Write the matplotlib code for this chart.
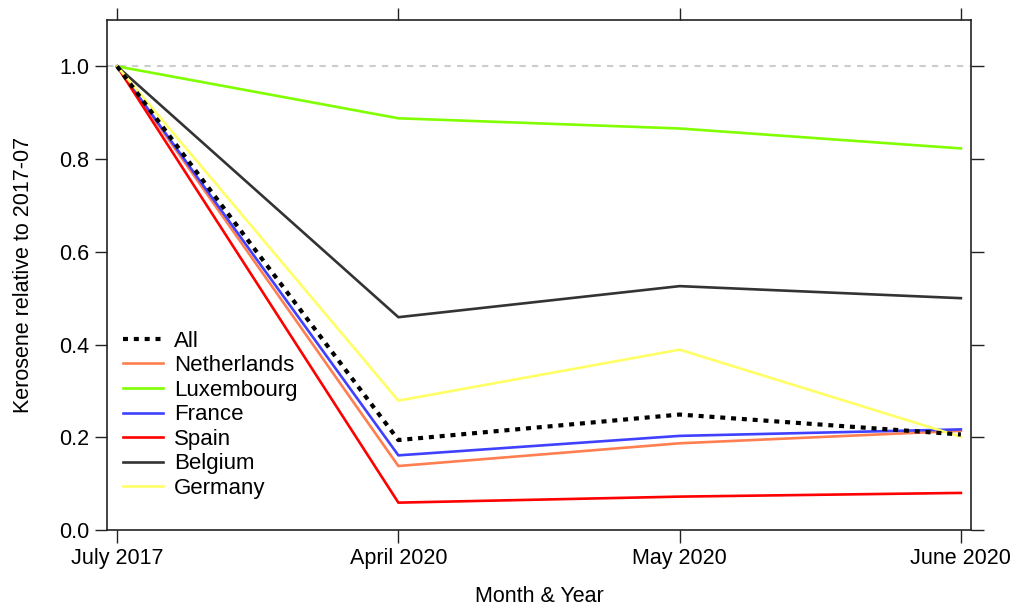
import matplotlib
matplotlib.use("Agg")
from matplotlib import pyplot as plt

plt.rcParams['font.family'] = ['Liberation Sans', 'DejaVu Sans']

months = ["July 2017", "April 2020", "May 2020", "June 2020"]
all_vals = [1.0, 0.194, 0.249, 0.206]
netherlands = [1.0, 0.138, 0.187, 0.214]
luxembourg = [1.0, 0.888, 0.866, 0.823]
france = [1.0, 0.161, 0.203, 0.217]
spain = [1.0, 0.059, 0.072, 0.080]
belgium = [1.0, 0.459, 0.526, 0.500]
germany = [1.0, 0.279, 0.389, 0.201]

countries = ["Netherlands", "Luxembourg", "France", "Spain", "Belgium", "Germany"]
series = [netherlands, luxembourg, france, spain, belgium, germany]
colors = ["#FF7F50", "#7FFF00", "#4040FF", "#FF0000", "#333333", "#FFFF66"]

fig = plt.figure(figsize=(10.17, 6.10), dpi=100)
ax = fig.add_axes([107 / 1017, 80 / 610, 864 / 1017, 510 / 610])

x = list(range(len(months)))
ax.axhline(1.0, color="#CCCCCC", lw=1.5, ls=(0, (3, 3)), zorder=1)

handles = []
for name, vals, c in zip(countries, series, colors):
    h, = ax.plot(x, vals, color=c, lw=1.9, label=name, zorder=2)
    handles.append(h)
h_all, = ax.plot(x, all_vals, color="black", lw=3, ls=(0, (1.2, 1.4)),
                 label="All", zorder=3)
handles = [h_all] + handles

ax.set_xlim(-0.036, 3.036)
ax.set_ylim(0, 1.1)
ax.set_xticks(x)
ax.set_xticklabels(months)
ax.set_yticks([0.0, 0.2, 0.4, 0.6, 0.8, 1.0])
ax.set_yticklabels(["0.0", "0.2", "0.4", "0.6", "0.8", "1.0"])
ax.tick_params(direction="out", length=9, width=1, labelsize=15.5, pad=4,
               top=True, right=True, color="#222222")
for s in ax.spines.values():
    s.set_linewidth(1.2)
    s.set_color("#222222")

ax.set_xlabel("Month & Year", fontsize=15.5, labelpad=12)
ax.set_ylabel("Kerosene relative to 2017-07", fontsize=15.5, labelpad=18)

ax.legend(handles=handles, loc="lower left",
          bbox_to_anchor=(123 / 1017, 111 / 610), bbox_transform=fig.transFigure,
          frameon=False, fontsize=16, borderpad=0, borderaxespad=0,
          handlelength=1.8, handletextpad=0.5, labelspacing=0.16)

fig.savefig("out.png", dpi=100)
